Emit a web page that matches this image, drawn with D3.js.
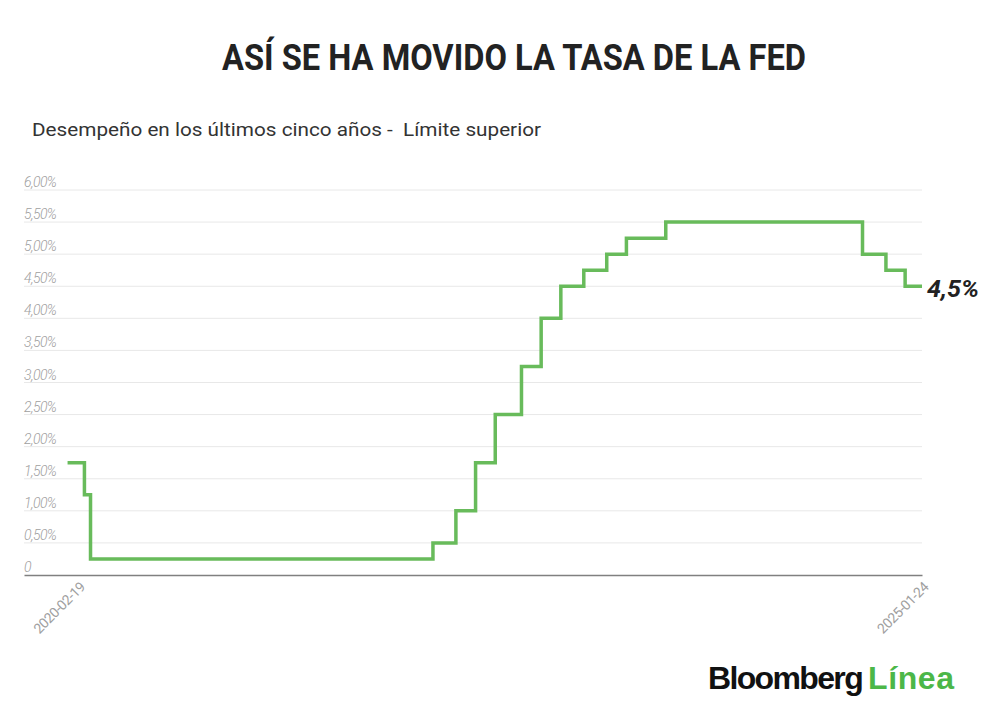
<!DOCTYPE html>
<html>
<head>
<meta charset="utf-8">
<script src="https://cdn.jsdelivr.net/npm/d3@7"></script>
<style>
  body { margin: 0; background: #fff; }
  svg { display: block; }
</style>
</head>
<body>
<script>
// Data: Fed upper bound, step changes
const dates = ['2020-01-27', '2020-03-03', '2020-03-16', '2022-03-17', '2022-05-05', '2022-06-16',
  '2022-07-28', '2022-09-22', '2022-11-03', '2022-12-15', '2023-02-02', '2023-03-23',
  '2023-05-04', '2023-07-27', '2024-09-19', '2024-11-08', '2024-12-19', '2025-01-24']
const rates = [1.75, 1.25, 0.25, 0.5, 1.0, 1.75, 2.5, 3.25, 4.0, 4.5, 4.75, 5.0, 5.25, 5.5, 5.0, 4.75, 4.5, 4.5]

const yTicks = [0, 0.5, 1, 1.5, 2, 2.5, 3, 3.5, 4, 4.5, 5, 5.5, 6]
const yTickLabels = ['0', '0,50%', '1,00%', '1,50%', '2,00%', '2,50%', '3,00%', '3,50%', '4,00%', '4,50%', '5,00%', '5,50%', '6,00%']
const xTicks = ['2020-02-19', '2025-01-24']
const xDomain = ['2019-10-26', '2025-01-24']
const endLabel = '4,5%'

// Chart settings
const width = 1000
const height = 721
const plotLeft = 24
const plotRight = 922
const plotTop = 190
const plotBottom = 575

const lineColor = '#68bb5b'
const gridColor = '#e8e8e8'
const labelColor = '#a0a0a0'

const parse = d3.timeParse('%Y-%m-%d')
const data = dates.map((d, i) => ({ date: parse(d), value: rates[i] }))

const svg = d3.select('body')
  .append('svg')
  .attr('width', width)
  .attr('height', height)

// Title
svg.append('text')
  .attr('x', 514)
  .attr('y', 70)
  .attr('text-anchor', 'middle')
  .attr('textLength', 584)
  .attr('lengthAdjust', 'spacingAndGlyphs')
  .style('font-family', 'Roboto, "Liberation Sans", sans-serif')
  .style('font-weight', 700)
  .style('font-size', '37px')
  .style('fill', '#222')
  .text('ASÍ SE HA MOVIDO LA TASA DE LA FED')

// Subtitle
svg.append('text')
  .attr('x', 32)
  .attr('y', 136)
  .attr('textLength', 509)
  .attr('lengthAdjust', 'spacingAndGlyphs')
  .style('white-space', 'pre')
  .style('font-family', 'Roboto, sans-serif')
  .style('font-size', '19px')
  .style('fill', '#333')
  .text('Desempeño en los últimos cinco años -  Límite superior')

// Scales
const x = d3.scaleTime()
  .domain(xDomain.map(parse))
  .range([plotLeft, plotRight])
const y = d3.scaleLinear()
  .domain([0, 6])
  .range([plotBottom, plotTop])

// Grid lines
svg.append('g')
  .selectAll('line')
  .data(yTicks.filter(d => d > 0))
  .enter()
  .append('line')
  .attr('x1', plotLeft)
  .attr('x2', plotRight)
  .attr('y1', d => y(d))
  .attr('y2', d => y(d))
  .style('stroke', gridColor)
  .style('stroke-width', 1)

// Y labels
svg.append('g')
  .selectAll('text')
  .data(yTicks)
  .enter()
  .append('text')
  .attr('x', plotLeft)
  .attr('y', d => y(d) - 3)
  .style('font-family', 'Roboto, sans-serif')
  .style('font-weight', 300)
  .style('font-style', 'italic')
  .style('font-size', '14px')
  .style('letter-spacing', '-0.6px')
  .style('fill', labelColor)
  .text((d, i) => yTickLabels[i])

// X axis
const xAxis = d3.axisBottom(x)
  .tickValues(xTicks.map(parse))
  .tickSize(0)
  .tickFormat(d3.timeFormat('%Y-%m-%d'))

const gx = svg.append('g')
  .attr('transform', `translate(0, ${plotBottom})`)
  .call(xAxis)
gx.select('.domain')
  .style('stroke', '#808080')
  .style('stroke-width', 1.5)
gx.selectAll('text')
  .attr('transform', 'translate(7, 13) rotate(-45)')
  .attr('text-anchor', 'end')
  .attr('dy', 0)
  .attr('y', 0)
  .attr('x', 0)
  .style('font-family', 'Roboto, sans-serif')
  .style('font-size', '14px')
  .style('letter-spacing', '-0.5px')
  .style('fill', labelColor)

// Line
const line = d3.line()
  .x(d => x(d.date))
  .y(d => y(d.value))
  .curve(d3.curveStepAfter)

svg.append('path')
  .datum(data)
  .attr('d', line)
  .style('fill', 'none')
  .style('stroke', lineColor)
  .style('stroke-width', 3.5)

// End label
const last = data[data.length - 1]
svg.append('text')
  .attr('x', x(last.date) + 5)
  .attr('y', y(last.value) + 11)
  .attr('textLength', 52)
  .attr('lengthAdjust', 'spacingAndGlyphs')
  .style('font-family', 'Roboto, sans-serif')
  .style('font-weight', 700)
  .style('font-style', 'italic')
  .style('font-size', '23px')
  .style('fill', '#222')
  .text(endLabel)

// Logo
const logo = svg.append('text')
  .attr('y', 689)
  .style('font-family', '"Liberation Sans", Arial, sans-serif')
  .style('font-weight', 700)
  .style('font-size', '32px')
logo.append('tspan')
  .attr('x', 708)
  .style('letter-spacing', '-1.65px')
  .style('fill', '#111')
  .text('Bloomberg')
logo.append('tspan')
  .attr('x', 868)
  .style('letter-spacing', '0.6px')
  .style('fill', '#4cb748')
  .text('Línea')
</script>
</body>
</html>
